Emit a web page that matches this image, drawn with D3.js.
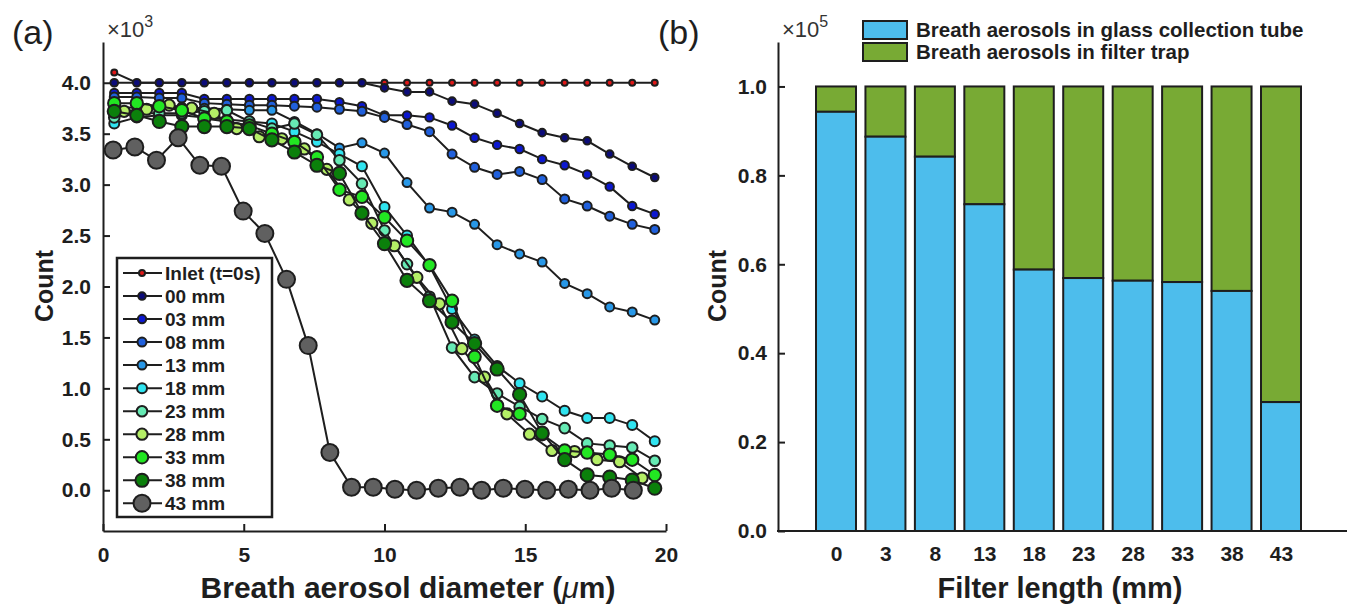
<!DOCTYPE html>
<html><head><meta charset="utf-8">
<script src="https://cdn.jsdelivr.net/npm/d3@7"></script>
<style>
html,body{margin:0;padding:0;background:#fff;}
svg{display:block;font-family:"Liberation Sans",Arial,sans-serif;}
</style></head>
<body><svg id="chart" width="1350" height="607"></svg>
<script>
// ---------- Panel (a) data ----------
const diameter   = [0.4,1.2,2.0,2.8,3.6,4.4,5.2,6.0,6.8,7.6,8.4,9.2,10.0,10.8,11.6,12.4,13.2,14.0,14.8,15.6,16.4,17.2,18.0,18.8,19.6];
const diameter28 = [0.75,1.55,2.35,3.15,3.95,4.75,5.55,6.35,7.15,7.95,8.75,9.55,10.35,11.15,11.95,12.75,13.55,14.35,15.15,15.95,16.75,17.55,18.35,19.15];
const diameter43 = [0.36,1.13,1.90,2.67,3.44,4.21,4.98,5.75,6.52,7.29,8.06,8.83,9.60,10.37,11.14,11.91,12.68,13.45,14.22,14.99,15.76,16.53,17.30,18.07,18.84];
const seriesNames = ["Inlet (t=0s)","00 mm","03 mm","08 mm","13 mm","18 mm","23 mm","28 mm","33 mm","38 mm","43 mm"];
const inlet = [4.10,4.00,4.00,4.00,4.00,4.00,4.00,4.00,4.00,4.00,4.00,4.00,4.00,4.00,4.00,4.00,4.00,4.00,4.00,4.00,4.00,4.00,4.00,4.00,4.00];
const mm00 = [4.00,4.00,4.00,4.00,4.00,4.00,4.00,4.00,4.00,4.00,4.00,4.00,3.95,3.91,3.91,3.82,3.79,3.70,3.60,3.51,3.46,3.43,3.30,3.18,3.07];
const mm03 = [3.90,3.90,3.90,3.90,3.84,3.84,3.84,3.84,3.84,3.84,3.81,3.77,3.68,3.68,3.66,3.58,3.46,3.39,3.35,3.25,3.19,3.10,2.98,2.79,2.71];
const mm08 = [3.86,3.86,3.85,3.85,3.80,3.79,3.78,3.78,3.77,3.76,3.74,3.72,3.66,3.59,3.52,3.30,3.17,3.10,3.13,3.05,2.86,2.79,2.69,2.61,2.56];
const mm13 = [3.75,3.76,3.77,3.76,3.75,3.74,3.73,3.73,3.62,3.50,3.36,3.41,3.31,3.02,2.77,2.73,2.61,2.41,2.32,2.24,2.03,1.93,1.80,1.75,1.67];
const mm18 = [3.60,3.66,3.68,3.68,3.66,3.64,3.62,3.60,3.52,3.42,3.30,3.18,2.78,2.50,2.20,1.78,1.48,1.22,1.05,0.92,0.78,0.71,0.71,0.64,0.48];
const mm23 = [3.66,3.70,3.70,3.70,3.72,3.73,3.62,3.55,3.60,3.49,3.24,3.01,2.55,2.22,1.90,1.40,1.11,0.95,0.82,0.70,0.61,0.46,0.44,0.42,0.29];
const mm28 = [3.72,3.74,3.78,3.75,3.70,3.55,3.47,3.45,3.35,3.15,2.85,2.62,2.40,2.09,1.83,1.39,1.11,0.75,0.55,0.39,0.38,0.30,0.28,0.12];
const mm33 = [3.80,3.80,3.77,3.73,3.65,3.62,3.58,3.50,3.42,3.27,2.95,2.88,2.68,2.45,2.21,1.86,1.31,0.83,0.75,0.55,0.39,0.37,0.35,0.30,0.15];
const mm38 = [3.72,3.68,3.62,3.57,3.57,3.57,3.55,3.44,3.32,3.19,3.11,2.72,2.42,2.06,1.86,1.65,1.44,1.19,0.94,0.56,0.30,0.15,0.13,0.10,0.02];
const mm43 = [3.34,3.37,3.24,3.46,3.19,3.18,2.74,2.52,2.07,1.42,0.37,0.03,0.03,0.01,0.00,0.02,0.03,0.00,0.02,0.01,0.00,0.01,0.00,0.02,0.00];
const xTicksA = [0,5,10,15,20];
const yTicksA = [0,0.5,1.0,1.5,2.0,2.5,3.0,3.5,4.0];

// ---------- Panel (b) data ----------
const filterLengths = ["0","3","8","13","18","23","28","33","38","43"];
const glassTube  = [0.943,0.887,0.842,0.735,0.588,0.569,0.563,0.560,0.540,0.290];
const filterTrap = [0.057,0.113,0.158,0.265,0.412,0.431,0.437,0.440,0.460,0.710];
const yTicksB = [0,0.2,0.4,0.6,0.8,1.0];
const legendB = ["Breath aerosols in glass collection tube","Breath aerosols in filter trap"];

// ---------- styles ----------
const seriesColors = ["#e01818","#0c0c7a","#0c18d0","#2060dc","#2898e8","#30e4f0","#66eab4","#b4ee66","#22e622","#0b800b","#606060"];
const seriesR = [4,4.8,5.2,5.5,5.5,6,6.3,6.6,7.2,7.6,9.5];
const blueC = "#4dbdec", greenC = "#78aa34";
const ink = "#1e1e1e";

const svg = d3.select("#chart");

// ================= Panel (a) =================
const xA = d3.scaleLinear().domain([0,20]).range([103,666]);
const yA = d3.scaleLinear().domain([-0.4,4.4]).range([531,42]);

const seriesData = [inlet,mm00,mm03,mm08,mm13,mm18,mm23,mm28,mm33,mm38,mm43];
const seriesX = seriesData.map((s,i)=> i===7 ? diameter28 : (i===10 ? diameter43 : diameter));

const gA = svg.append("g");
const line = d3.line().x(d=>xA(d[0])).y(d=>yA(d[1]));
seriesData.forEach((vals,i)=>{
  const pts = vals.map((v,j)=>[seriesX[i][j], v]);
  gA.append("path").datum(pts).attr("d",line).attr("fill","none").attr("stroke",ink).attr("stroke-width",2);
  gA.selectAll(null).data(pts).enter().append("circle")
    .attr("cx",d=>xA(d[0])).attr("cy",d=>yA(d[1])).attr("r",seriesR[i]-1)
    .attr("fill",seriesColors[i]).attr("stroke",ink).attr("stroke-width",2);
});

// axes a
const axYA = d3.axisLeft(yA).tickValues(yTicksA).tickFormat(d3.format(".1f")).tickSizeInner(-7).tickSizeOuter(0).tickPadding(12);
const gYA = svg.append("g").attr("transform","translate(103,0)").call(axYA);
const axXA = d3.axisBottom(xA).tickValues(xTicksA).tickFormat(d3.format("d")).tickSizeInner(-7).tickSizeOuter(0).tickPadding(16);
const gXA = svg.append("g").attr("transform","translate(0,531)").call(axXA);
[gYA,gXA].forEach(g=>{
  g.selectAll("path,line").attr("stroke",ink).attr("stroke-width",2);
  g.selectAll("text").attr("fill",ink).style("font-size","21px").style("font-weight","bold");
});

svg.append("text").attr("x",12).attr("y",44).style("font-size","34px").attr("fill",ink).text("(a)");
const expA = svg.append("text").attr("x",107).attr("y",37).style("font-size","22px").attr("fill","#333");
expA.append("tspan").text("\u00d710");
expA.append("tspan").attr("dy",-10).style("font-size","16px").text("3");
svg.append("text").attr("transform","translate(53,286) rotate(-90)").attr("text-anchor","middle")
  .style("font-size","25px").style("font-weight","bold").attr("fill",ink).text("Count");
const tA = svg.append("text").attr("x",408).attr("y",598).attr("text-anchor","middle")
  .style("font-size","30px").style("font-weight","bold").attr("fill",ink);
tA.append("tspan").text("Breath aerosol diameter (");
tA.append("tspan").style("font-style","italic").style("font-weight","normal").text("\u03bc");
tA.append("tspan").text("m)");

// legend a
const legA = svg.append("g");
legA.append("rect").attr("x",117).attr("y",258).attr("width",155).attr("height",259)
  .attr("fill","#fff").attr("stroke",ink).attr("stroke-width",2.5);
seriesNames.forEach((n,i)=>{
  const yy = 273 + i*23.03;
  legA.append("line").attr("x1",123).attr("x2",162).attr("y1",yy).attr("y2",yy).attr("stroke",ink).attr("stroke-width",2);
  legA.append("circle").attr("cx",142).attr("cy",yy).attr("r",seriesR[i]-1).attr("fill",seriesColors[i]).attr("stroke",ink).attr("stroke-width",2);
  legA.append("text").attr("x",165).attr("y",yy).attr("dy","0.36em").style("font-size","19px").style("font-weight","bold").attr("fill",ink).text(n);
});

// ================= Panel (b) =================
const xB = d3.scalePoint().domain(filterLengths).range([836,1281]);
const yB = d3.scaleLinear().domain([0,1.1]).range([531,42]);
const barW = 40;
const gB = svg.append("g");
filterLengths.forEach((c,i)=>{
  gB.append("rect").attr("x",xB(c)-barW/2).attr("y",yB(glassTube[i]+filterTrap[i])).attr("width",barW)
    .attr("height",yB(glassTube[i])-yB(glassTube[i]+filterTrap[i])).attr("fill",greenC).attr("stroke",ink).attr("stroke-width",2);
  gB.append("rect").attr("x",xB(c)-barW/2).attr("y",yB(glassTube[i])).attr("width",barW)
    .attr("height",yB(0)-yB(glassTube[i])).attr("fill",blueC).attr("stroke",ink).attr("stroke-width",2);
});
const axYB = d3.axisLeft(yB).tickValues(yTicksB).tickFormat(d3.format(".1f")).tickSizeInner(-7).tickSizeOuter(0).tickPadding(11);
const gYB = svg.append("g").attr("transform","translate(778,0)").call(axYB);
const axXB = d3.axisBottom(xB).tickSize(0).tickPadding(15);
const gXB = svg.append("g").attr("transform","translate(0,531)").call(axXB);
gXB.select(".domain").remove();
svg.append("line").attr("x1",777).attr("x2",1347).attr("y1",531).attr("y2",531).attr("stroke",ink).attr("stroke-width",2);
[gYB,gXB].forEach(g=>{
  g.selectAll("path,line").attr("stroke",ink).attr("stroke-width",2);
  g.selectAll("text").attr("fill",ink).style("font-size","21px").style("font-weight","bold");
});
svg.append("text").attr("x",658).attr("y",44).style("font-size","34px").attr("fill",ink).text("(b)");
const expB = svg.append("text").attr("x",782).attr("y",37).style("font-size","22px").attr("fill","#333");
expB.append("tspan").text("\u00d710");
expB.append("tspan").attr("dy",-10).style("font-size","16px").text("5");
svg.append("text").attr("transform","translate(726,286) rotate(-90)").attr("text-anchor","middle")
  .style("font-size","25px").style("font-weight","bold").attr("fill",ink).text("Count");
svg.append("text").attr("x",1060).attr("y",598).attr("text-anchor","middle")
  .style("font-size","29px").style("font-weight","bold").attr("fill",ink).text("Filter length (mm)");

// legend b
[blueC,greenC].forEach((col,i)=>{
  const cy = 30 + i*22;
  svg.append("rect").attr("x",863).attr("y",cy-9).attr("width",44).attr("height",18)
    .attr("fill",col).attr("stroke",ink).attr("stroke-width",2);
  svg.append("text").attr("x",916).attr("y",cy).attr("dy","0.36em").style("font-size","20.5px").style("font-weight","bold").attr("fill",ink).text(legendB[i]);
});
</script></body></html>
